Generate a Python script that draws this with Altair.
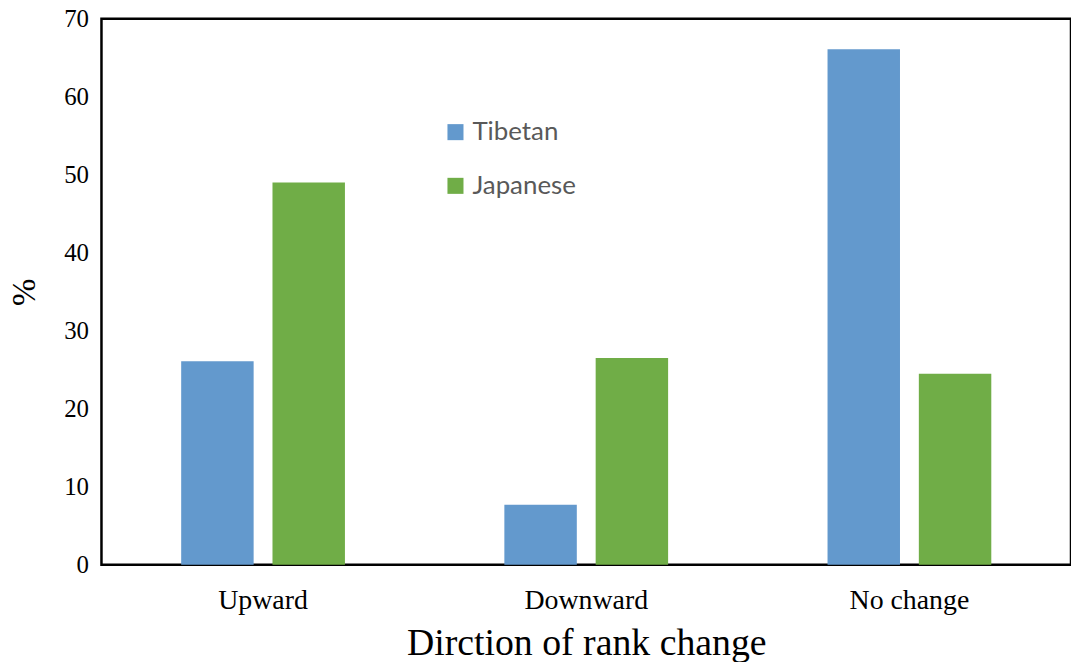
import altair as alt
import pandas as pd

categories = ["Upward", "Downward", "No change"]
groups = ["Tibetan", "Japanese"]
tibetan = [26.1, 7.7, 66.1]
japanese = [49.0, 26.5, 24.5]

rows = []
for c, t, j in zip(categories, tibetan, japanese):
    rows.append({"dir": c, "lang": "Tibetan", "val": t})
    rows.append({"dir": c, "lang": "Japanese", "val": j})
df = pd.DataFrame(rows)

serif = "Liberation Serif"

chart = alt.Chart(df).mark_bar().encode(
    x=alt.X("dir:N", sort=categories,
            scale=alt.Scale(paddingInner=0, paddingOuter=0),
            axis=alt.Axis(title="Dirction of rank change", labelAngle=0, ticks=False,
                          domain=False, labelFont=serif, labelFontSize=28,
                          labelColor="black", labelPadding=22,
                          titleFont=serif, titleFontSize=38, titleFontWeight="normal",
                          titleColor="black", titlePadding=10)),
    xOffset=alt.XOffset("lang:N", sort=groups,
                        scale=alt.Scale(paddingInner=0.2065, paddingOuter=0.873)),
    y=alt.Y("val:Q", scale=alt.Scale(domain=[0, 70], nice=False),
            axis=alt.Axis(title="%", values=list(range(0, 80, 10)), ticks=False,
                          domain=False, grid=False, labelFont=serif, labelFontSize=25,
                          labelColor="black", labelPadding=13,
                          titleFont=serif, titleFontSize=33, titleFontWeight="normal",
                          titleColor="black", titlePadding=22)),
    color=alt.Color("lang:N", sort=groups,
                    scale=alt.Scale(domain=groups, range=["#6399CD", "#70AD47"]),
                    legend=alt.Legend(title=None, orient="none", legendX=343, legendY=101,
                                      symbolType="square", symbolSize=260,
                                      symbolStrokeWidth=0, labelFont="Lato",
                                      labelFontSize=26, labelColor="#595959",
                                      rowPadding=28, labelOffset=4)),
).properties(
    width=975, height=549,
    autosize=alt.AutoSizeParams(type="none"),
    padding={"left": 94, "top": 9, "right": 0, "bottom": 96},
).configure_view(stroke="black", strokeWidth=2.5)

chart.save("out.html", embed_options={"renderer": "svg", "actions": False})
